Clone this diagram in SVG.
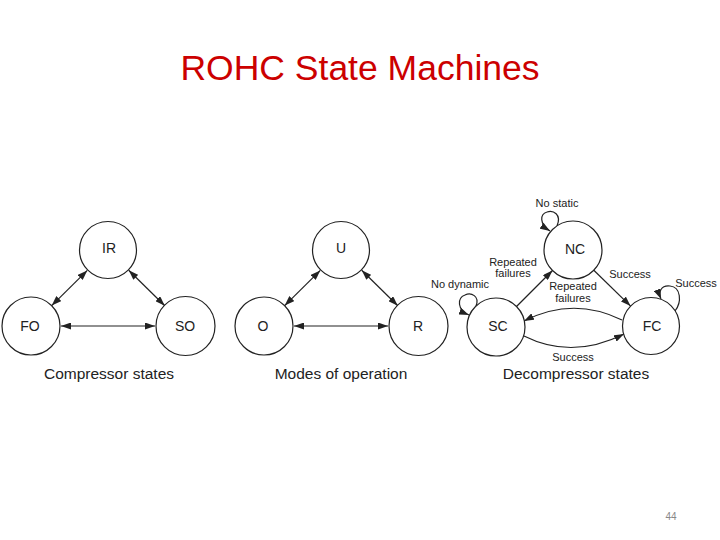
<svg xmlns="http://www.w3.org/2000/svg" width="720" height="540" viewBox="0 0 720 540">
<defs>
<style>
.n{fill:#fff;stroke:#222;stroke-width:1.2}
.t{font-family:"Liberation Sans",Arial,sans-serif;fill:#222;text-anchor:middle}
.nl{font-size:14px}
.sl{font-size:11px}
.cap{font-size:15.5px}
.e{fill:none;stroke:#222;stroke-width:1.2}
</style>
<marker id="ah" viewBox="0 0 10 7" refX="10" refY="3.5" markerWidth="10" markerHeight="7" markerUnits="userSpaceOnUse" orient="auto-start-reverse">
<path d="M0,0 L10,3.5 L0,7 z" fill="#222"/>
</marker>
</defs>
<rect width="720" height="540" fill="#fff"/>
<text x="360" y="80" font-family="'Liberation Sans',Arial,sans-serif" font-size="35.5" fill="#cc0000" text-anchor="middle">ROHC State Machines</text>

<g id="connectors">
<line class="e" x1="51.7" y1="305.6" x2="87.3" y2="270.4" marker-start="url(#ah)" marker-end="url(#ah)"/>
<line class="e" x1="128.7" y1="270.3" x2="164.8" y2="305.7" marker-start="url(#ah)" marker-end="url(#ah)"/>
<line class="e" x1="61" y1="326" x2="155" y2="326" marker-start="url(#ah)" marker-end="url(#ah)"/>
<line class="e" x1="284.7" y1="305.6" x2="320.3" y2="270.4" marker-start="url(#ah)" marker-end="url(#ah)"/>
<line class="e" x1="361.7" y1="270.3" x2="397.8" y2="305.7" marker-start="url(#ah)" marker-end="url(#ah)"/>
<line class="e" x1="294" y1="326" x2="388" y2="326" marker-start="url(#ah)" marker-end="url(#ah)"/>
<line class="e" x1="516.5" y1="306.5" x2="552.5" y2="270.5" marker-end="url(#ah)"/>
<line class="e" x1="593.8" y1="270.2" x2="630.6" y2="306.1" marker-end="url(#ah)"/>
<path class="e" d="M622,320 Q573,296 524,321" marker-end="url(#ah)"/>
<path class="e" d="M524,336 Q572,360 624,334" marker-end="url(#ah)"/>
<path class="e" d="M557,226 C562,214 553,210 547,212 C540,214 539,224 550,231" marker-end="url(#ah)"/>
<path class="e" d="M476,306 C480,296 471,292 465,295 C457,298 457,310 469,315" marker-end="url(#ah)"/>
<path class="e" d="M675,311 C682,302 681,287 670,286 C661,285 658,292 661,299" marker-end="url(#ah)"/>
</g>

<g id="IR"><circle class="n" cx="108" cy="250" r="28.5"/><text class="t nl" x="109" y="253">IR</text></g>
<g id="FO"><circle class="n" cx="31" cy="326" r="29"/><text class="t nl" x="30" y="331">FO</text></g>
<g id="SO"><circle class="n" cx="185.5" cy="326" r="29.5"/><text class="t nl" x="185" y="331">SO</text></g>
<text class="t cap" x="109" y="379">Compressor states</text>

<g id="U"><circle class="n" cx="341" cy="250" r="28.5"/><text class="t nl" x="341" y="253">U</text></g>
<g id="O"><circle class="n" cx="264" cy="326" r="29"/><text class="t nl" x="263" y="331">O</text></g>
<g id="R"><circle class="n" cx="418.5" cy="326" r="29.5"/><text class="t nl" x="418" y="331">R</text></g>
<text class="t cap" x="341" y="379">Modes of operation</text>

<g id="NC"><circle class="n" cx="573" cy="250" r="29"/><text class="t nl" x="575" y="254">NC</text></g>
<g id="SC"><circle class="n" cx="496" cy="327" r="29"/><text class="t nl" x="498" y="331">SC</text></g>
<g id="FC"><circle class="n" cx="651" cy="326" r="28.5"/><text class="t nl" x="652" y="331">FC</text></g>

<text class="t sl" x="557" y="207">No static</text>
<text class="t sl" x="513" y="266">Repeated</text>
<text class="t sl" x="513" y="277">failures</text>
<text class="t sl" x="460" y="288">No dynamic</text>
<text class="t sl" x="573" y="290">Repeated</text>
<text class="t sl" x="573" y="302">failures</text>
<text class="t sl" x="630" y="278">Success</text>
<text class="t sl" x="696" y="287">Success</text>
<text class="t sl" x="573" y="361">Success</text>
<text class="t cap" x="576" y="379">Decompressor states</text>

<text x="671" y="520" font-family="'Liberation Sans',Arial,sans-serif" font-size="10" fill="#888" text-anchor="middle">44</text>
</svg>
